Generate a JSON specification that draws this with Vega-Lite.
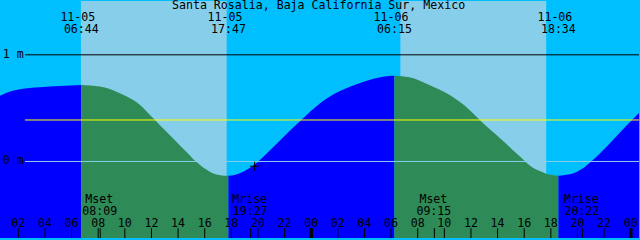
{
  "$schema": "https://vega.github.io/schema/vega-lite/v6.json",
  "width": 640,
  "height": 240,
  "autosize": {"type": "fit", "contains": "padding"},
  "padding": 0,
  "background": "#00bfff",
  "config": {"view": {"stroke": null}, "axis": {"disable": true}},
  "datasets": {
    "tide": [
      {"t": 0.6225, "h": 0.6157, "seg": 1, "phase": "flood"},
      {"t": 1.3725, "h": 0.6556, "seg": 1, "phase": "flood"},
      {"t": 2.1225, "h": 0.6778, "seg": 1, "phase": "flood"},
      {"t": 3.6225, "h": 0.6963, "seg": 1, "phase": "flood"},
      {"t": 5.1225, "h": 0.7083, "seg": 1, "phase": "flood"},
      {"t": 6.735, "h": 0.7176, "seg": 1, "phase": "flood"},
      {"t": 6.735, "h": 0.7176, "seg": 2, "phase": "ebb"},
      {"t": 8.1225, "h": 0.7019, "seg": 2, "phase": "ebb"},
      {"t": 9.6225, "h": 0.6407, "seg": 2, "phase": "ebb"},
      {"t": 10.5975, "h": 0.5787, "seg": 2, "phase": "ebb"},
      {"t": 11.1225, "h": 0.5324, "seg": 2, "phase": "ebb"},
      {"t": 11.8725, "h": 0.4370, "seg": 2, "phase": "ebb"},
      {"t": 12.6225, "h": 0.3426, "seg": 2, "phase": "ebb"},
      {"t": 13.3725, "h": 0.2472, "seg": 2, "phase": "ebb"},
      {"t": 14.1225, "h": 0.1528, "seg": 2, "phase": "ebb"},
      {"t": 14.8725, "h": 0.0583, "seg": 2, "phase": "ebb"},
      {"t": 15.2475, "h": 0.0093, "seg": 2, "phase": "ebb"},
      {"t": 15.6975, "h": -0.0370, "seg": 2, "phase": "ebb"},
      {"t": 16.125, "h": -0.0759, "seg": 2, "phase": "ebb"},
      {"t": 16.5225, "h": -0.1046, "seg": 2, "phase": "ebb"},
      {"t": 16.875, "h": -0.1213, "seg": 2, "phase": "ebb"},
      {"t": 17.2725, "h": -0.1306, "seg": 2, "phase": "ebb"},
      {"t": 17.7825, "h": -0.1343, "seg": 2, "phase": "ebb"},
      {"t": 17.7825, "h": -0.1343, "seg": 3, "phase": "flood"},
      {"t": 18.2475, "h": -0.1269, "seg": 3, "phase": "flood"},
      {"t": 18.6225, "h": -0.1111, "seg": 3, "phase": "flood"},
      {"t": 18.9975, "h": -0.0898, "seg": 3, "phase": "flood"},
      {"t": 19.3725, "h": -0.0620, "seg": 3, "phase": "flood"},
      {"t": 19.7475, "h": -0.0278, "seg": 3, "phase": "flood"},
      {"t": 20.1225, "h": 0.0111, "seg": 3, "phase": "flood"},
      {"t": 21.12, "h": 0.1315, "seg": 3, "phase": "flood"},
      {"t": 22.3725, "h": 0.2852, "seg": 3, "phase": "flood"},
      {"t": 23.37, "h": 0.4028, "seg": 3, "phase": "flood"},
      {"t": 24.6225, "h": 0.5417, "seg": 3, "phase": "flood"},
      {"t": 25.3725, "h": 0.6065, "seg": 3, "phase": "flood"},
      {"t": 26.1225, "h": 0.6574, "seg": 3, "phase": "flood"},
      {"t": 26.8725, "h": 0.6991, "seg": 3, "phase": "flood"},
      {"t": 27.6225, "h": 0.7333, "seg": 3, "phase": "flood"},
      {"t": 28.3725, "h": 0.7639, "seg": 3, "phase": "flood"},
      {"t": 29.1225, "h": 0.7870, "seg": 3, "phase": "flood"},
      {"t": 29.8725, "h": 0.8009, "seg": 3, "phase": "flood"},
      {"t": 30.2475, "h": 0.8037, "seg": 3, "phase": "flood"},
      {"t": 30.2475, "h": 0.8037, "seg": 4, "phase": "ebb"},
      {"t": 31.3725, "h": 0.7889, "seg": 4, "phase": "ebb"},
      {"t": 32.8725, "h": 0.7176, "seg": 4, "phase": "ebb"},
      {"t": 34.3725, "h": 0.6250, "seg": 4, "phase": "ebb"},
      {"t": 35.8725, "h": 0.4861, "seg": 4, "phase": "ebb"},
      {"t": 36.6225, "h": 0.3935, "seg": 4, "phase": "ebb"},
      {"t": 38.1225, "h": 0.2241, "seg": 4, "phase": "ebb"},
      {"t": 39.6225, "h": 0.0537, "seg": 4, "phase": "ebb"},
      {"t": 40.5975, "h": -0.0537, "seg": 4, "phase": "ebb"},
      {"t": 41.1225, "h": -0.0880, "seg": 4, "phase": "ebb"},
      {"t": 41.6475, "h": -0.1157, "seg": 4, "phase": "ebb"},
      {"t": 42.0975, "h": -0.1278, "seg": 4, "phase": "ebb"},
      {"t": 42.57, "h": -0.1343, "seg": 4, "phase": "ebb"},
      {"t": 42.57, "h": -0.1343, "seg": 5, "phase": "flood"},
      {"t": 43.0725, "h": -0.1278, "seg": 5, "phase": "flood"},
      {"t": 43.5975, "h": -0.1157, "seg": 5, "phase": "flood"},
      {"t": 44.3475, "h": -0.0694, "seg": 5, "phase": "flood"},
      {"t": 45.0975, "h": 0.0074, "seg": 5, "phase": "flood"},
      {"t": 46.5975, "h": 0.1926, "seg": 5, "phase": "flood"},
      {"t": 47.6475, "h": 0.3315, "seg": 5, "phase": "flood"},
      {"t": 48.6225, "h": 0.4556, "seg": 5, "phase": "flood"}
    ],
    "sun": [
      {"start": 6.70, "end": 17.65},
      {"start": 30.70, "end": 41.65}
    ],
    "events": [
      {"t": 6.733, "date": "11-05", "time": "06:44"},
      {"t": 17.783, "date": "11-05", "time": "17:47"},
      {"t": 30.25, "date": "11-06", "time": "06:15"},
      {"t": 42.567, "date": "11-06", "time": "18:34"}
    ],
    "moon": [
      {"t": 8.15, "name": "Mset", "time": "08:09"},
      {"t": 19.45, "name": "Mrise", "time": "19:27"},
      {"t": 33.25, "name": "Mset", "time": "09:15"},
      {"t": 44.367, "name": "Mrise", "time": "20:22"}
    ],
    "hours": [
      {"t": 2, "lab": "02"}, {"t": 4, "lab": "04"}, {"t": 6, "lab": "06"}, {"t": 8, "lab": "08"},
      {"t": 10, "lab": "10"}, {"t": 12, "lab": "12"}, {"t": 14, "lab": "14"}, {"t": 16, "lab": "16"},
      {"t": 18, "lab": "18"}, {"t": 20, "lab": "20"}, {"t": 22, "lab": "22"}, {"t": 24, "lab": "00"},
      {"t": 26, "lab": "02"}, {"t": 28, "lab": "04"}, {"t": 30, "lab": "06"}, {"t": 32, "lab": "08"},
      {"t": 34, "lab": "10"}, {"t": 36, "lab": "12"}, {"t": 38, "lab": "14"}, {"t": 40, "lab": "16"},
      {"t": 42, "lab": "18"}, {"t": 44, "lab": "20"}, {"t": 46, "lab": "22"}, {"t": 48, "lab": "00"}
    ],
    "levels": [
      {"h": 1, "lab": "1 m"},
      {"h": 0, "lab": "0 m"}
    ],
    "title": [
      {"t": 24.55, "lab": "Santa Rosalia, Baja California Sur, Mexico"}
    ],
    "now": [
      {"t": 19.75, "h": -0.0444}
    ]
  },
  "encoding": {
    "x": {"type": "quantitative", "scale": {"domain": [0.6225, 48.6225], "nice": false, "zero": false}, "axis": null},
    "y": {"type": "quantitative", "scale": {"domain": [-0.71759, 1.50463], "nice": false, "zero": false}, "axis": null}
  },
  "layer": [
    {
      "data": {"name": "sun"},
      "mark": {"type": "rect", "color": "#87ceeb"},
      "encoding": {
        "x": {"field": "start", "type": "quantitative"},
        "x2": {"field": "end"},
        "y": {"datum": 1.50463},
        "y2": {"datum": -0.71759}
      }
    },
    {
      "data": {"name": "tide"},
      "mark": {"type": "area", "interpolate": "monotone", "opacity": 1, "clip": true},
      "encoding": {
        "x": {"field": "t", "type": "quantitative"},
        "y": {"field": "h", "type": "quantitative", "stack": null},
        "y2": {"datum": -0.71759},
        "detail": {"field": "seg"},
        "color": {"field": "phase", "type": "nominal", "scale": {"domain": ["flood", "ebb"], "range": ["#0000ff", "#2e8b57"]}, "legend": null}
      }
    },
    {
      "data": {"name": "levels"},
      "transform": [{"filter": "datum.h == 1"}],
      "mark": {"type": "rule", "color": "#000000", "strokeWidth": 1},
      "encoding": {
        "x": {"datum": 2.4975},
        "x2": {"datum": 48.6225},
        "y": {"field": "h", "type": "quantitative"}
      }
    },
    {
      "data": {"name": "levels"},
      "transform": [{"filter": "datum.h == 0"}],
      "mark": {"type": "rule", "color": "#87ceeb", "strokeWidth": 1},
      "encoding": {
        "x": {"datum": 2.4975},
        "x2": {"datum": 48.6225},
        "y": {"field": "h", "type": "quantitative"}
      }
    },
    {
      "data": {"values": [{"h": 0.3889}]},
      "mark": {"type": "rule", "color": "#ffff00", "strokeWidth": 1},
      "encoding": {
        "x": {"datum": 2.4975},
        "x2": {"datum": 48.6225},
        "y": {"field": "h", "type": "quantitative"}
      }
    },
    {
      "data": {"name": "levels"},
      "mark": {"type": "text", "align": "left", "baseline": "middle", "font": "DejaVu Sans Mono", "fontSize": 11.6, "color": "#000000"},
      "encoding": {
        "x": {"datum": 0.83},
        "y": {"field": "h", "type": "quantitative"},
        "text": {"field": "lab"}
      }
    },
    {
      "data": {"name": "title"},
      "mark": {"type": "text", "align": "center", "baseline": "middle", "font": "DejaVu Sans Mono", "fontSize": 11.6, "color": "#000000"},
      "encoding": {
        "x": {"field": "t", "type": "quantitative"},
        "y": {"datum": 1.4537},
        "text": {"field": "lab"}
      }
    },
    {
      "data": {"name": "events"},
      "mark": {"type": "text", "align": "center", "baseline": "middle", "dx": -3.5, "font": "DejaVu Sans Mono", "fontSize": 11.6, "color": "#000000"},
      "encoding": {
        "x": {"field": "t", "type": "quantitative"},
        "y": {"datum": 1.3426},
        "text": {"field": "date"}
      }
    },
    {
      "data": {"name": "events"},
      "mark": {"type": "text", "align": "center", "baseline": "middle", "font": "DejaVu Sans Mono", "fontSize": 11.6, "color": "#000000"},
      "encoding": {
        "x": {"field": "t", "type": "quantitative"},
        "y": {"datum": 1.2343},
        "text": {"field": "time"}
      }
    },
    {
      "data": {"name": "moon"},
      "mark": {"type": "text", "align": "center", "baseline": "middle", "dx": -1, "font": "DejaVu Sans Mono", "fontSize": 11.6, "color": "#000000"},
      "encoding": {
        "x": {"field": "t", "type": "quantitative"},
        "y": {"datum": -0.3630},
        "text": {"field": "name"}
      }
    },
    {
      "data": {"name": "moon"},
      "mark": {"type": "text", "align": "center", "baseline": "middle", "dx": -0.5, "font": "DejaVu Sans Mono", "fontSize": 11.6, "color": "#000000"},
      "encoding": {
        "x": {"field": "t", "type": "quantitative"},
        "y": {"datum": -0.4722},
        "text": {"field": "time"}
      }
    },
    {
      "data": {"name": "moon"},
      "mark": {"type": "rule", "color": "#000000", "strokeWidth": 1},
      "encoding": {
        "x": {"field": "t", "type": "quantitative"},
        "y": {"datum": -0.625},
        "y2": {"datum": -0.71759}
      }
    },
    {
      "data": {"name": "hours"},
      "mark": {"type": "text", "align": "center", "baseline": "middle", "font": "DejaVu Sans Mono", "fontSize": 11.6, "color": "#000000"},
      "encoding": {
        "x": {"field": "t", "type": "quantitative"},
        "y": {"datum": -0.5861},
        "text": {"field": "lab"}
      }
    },
    {
      "data": {"name": "hours"},
      "transform": [{"filter": "datum.lab != '00'"}],
      "mark": {"type": "rule", "color": "#000000", "strokeWidth": 1},
      "encoding": {
        "x": {"field": "t", "type": "quantitative"},
        "y": {"datum": -0.625},
        "y2": {"datum": -0.71759}
      }
    },
    {
      "data": {"name": "hours"},
      "transform": [{"filter": "datum.lab == '00'"}],
      "mark": {"type": "rule", "color": "#000000", "strokeWidth": 3.5},
      "encoding": {
        "x": {"field": "t", "type": "quantitative"},
        "y": {"datum": -0.625},
        "y2": {"datum": -0.71759}
      }
    },
    {
      "data": {"name": "now"},
      "mark": {"type": "point", "shape": "M-1,0H1M0,-1V1", "filled": false, "size": 81, "stroke": "#000000", "strokeWidth": 1, "opacity": 1},
      "encoding": {
        "x": {"field": "t", "type": "quantitative"},
        "y": {"field": "h", "type": "quantitative"}
      }
    }
  ]
}
